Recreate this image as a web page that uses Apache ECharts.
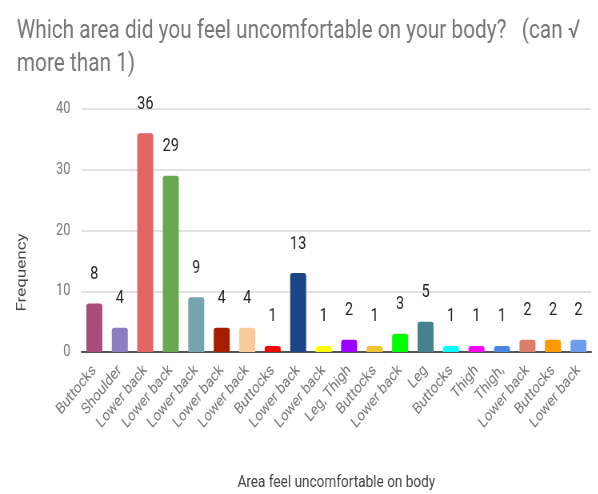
<!DOCTYPE html>
<html>
<head>
<meta charset="utf-8">
<script src="https://cdn.jsdelivr.net/npm/echarts@6/dist/echarts.min.js"></script>
<style>
  html, body { margin: 0; padding: 0; background: #fff; overflow: hidden; }
  /* the reference picture is squeezed sideways, so draw wider and squeeze the same way */
  #chart { width: 748px; height: 494px; transform: scaleX(0.8); transform-origin: 0 0; }
</style>
</head>
<body>
<div id="chart"></div>
<script>
const categories = ['Buttocks', 'Shoulder', 'Lower back', 'Lower back', 'Lower back', 'Lower back', 'Lower back',
  'Buttocks', 'Lower back', 'Lower back', 'Leg, Thigh', 'Buttocks', 'Lower back', 'Leg', 'Buttocks', 'Thigh',
  'Thigh,', 'Lower back', 'Buttocks', 'Lower back']
const frequency = [8, 4, 36, 29, 9, 4, 4, 1, 13, 1, 2, 1, 3, 5, 1, 1, 1, 2, 2, 2]
const barColors = ['#a64d79', '#8e7cc3', '#e06666', '#6aa84f', '#76a5af', '#a61c00', '#f9cb9c', '#ff0000',
  '#1c4587', '#ffff00', '#9900ff', '#f1c232', '#00ff00', '#45818e', '#00ffff', '#ff00ff', '#4a86e8',
  '#dd7e6b', '#ff9900', '#6d9eeb']
const yTicks = [0, 10, 20, 30, 40]

const chart = echarts.init(document.getElementById('chart'))
const font = 'Roboto'

const option = {
  animation: false,
  title: {
    text: 'Which area did you feel uncomfortable on your body?   (can \u221a\nmore than 1)',
    left: 16,
    top: 10,
    textStyle: {
      color: '#757575',
      fontFamily: font,
      fontWeight: 'normal',
      fontSize: 26,
      lineHeight: 33
    }
  },
  grid: { left: 102, right: 9, top: 109, bottom: 142, outerBoundsMode: 'none', containLabel: false },
  xAxis: {
    type: 'category',
    data: categories,
    name: 'Area feel uncomfortable on body',
    nameLocation: 'middle',
    nameGap: 122,
    nameTextStyle: { color: '#444', fontFamily: font, fontSize: 17 },
    axisLine: { lineStyle: { color: '#555', width: 2 } },
    axisTick: { show: false },
    axisLabel: {
      rotate: 45,
      interval: 0,
      margin: 16,
      color: '#777',
      fontFamily: font,
      fontSize: 16
    }
  },
  yAxis: {
    type: 'value',
    min: yTicks[0],
    max: yTicks[yTicks.length - 1],
    interval: 10,
    name: 'Frequency',
    nameLocation: 'middle',
    nameGap: 66,
    // pushed down a little, the title sits lower than the plot's middle
    nameTextStyle: { color: '#444', fontFamily: font, fontSize: 17, padding: [0, 84, 0, 0] },
    axisLine: { show: false },
    axisTick: { show: false },
    splitLine: { lineStyle: { color: '#d9d9d9', width: 1.5 } },
    axisLabel: { color: '#777', fontFamily: font, fontSize: 16, margin: 14 }
  },
  series: [
    {
      type: 'bar',
      data: frequency.map((v, i) => ({ value: v, itemStyle: { color: barColors[i] } })),
      barWidth: 20,
      itemStyle: { borderRadius: [3, 3, 0, 0] },
      label: {
        show: true,
        position: 'top',
        distance: 20,
        color: '#222',
        fontFamily: font,
        fontSize: 18
      }
    }
  ]
}
chart.setOption(option)
</script>
</body>
</html>
